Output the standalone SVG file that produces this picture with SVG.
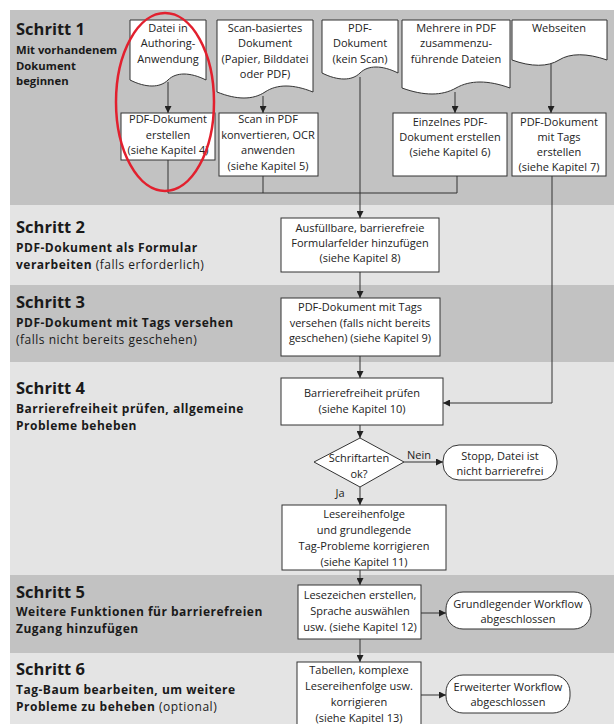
<svg xmlns="http://www.w3.org/2000/svg" width="614" height="724" viewBox="0 0 614 724">
<defs>
<marker id="ah" viewBox="0 0 8 8" refX="8" refY="4" markerWidth="7" markerHeight="7" markerUnits="userSpaceOnUse" orient="auto">
<path d="M0,0 L8,4 L0,8 z" fill="#222"/>
</marker>
<style>
.band-d{fill:#c2c2c2}
.band-l{fill:#e4e4e4}
.box{fill:#fff;stroke:#333;stroke-width:1}
.t{font-family:"Open Sans","Noto Sans",sans-serif;font-size:11px;fill:#222;text-anchor:middle}
.h{font-family:"Open Sans","Noto Sans",sans-serif;font-size:16.5px;font-weight:bold;fill:#1a1a1a}
.s{font-family:"Open Sans","Noto Sans",sans-serif;font-size:12px;letter-spacing:0.5px;fill:#1a1a1a}
.s1{font-family:"Open Sans","Noto Sans",sans-serif;font-size:11.3px;fill:#1a1a1a}
.b{font-weight:bold}
.c{fill:none;stroke:#333;stroke-width:1}
.ca{fill:none;stroke:#333;stroke-width:1;marker-end:url(#ah)}
</style>
</defs>
<rect x="0" y="0" width="614" height="724" fill="#fff"/>
<g id="bands">
<rect class="band-d" x="10" y="10" width="604" height="195"/>
<rect class="band-l" x="10" y="205" width="604" height="80"/>
<rect class="band-d" x="10" y="285" width="604" height="77"/>
<rect class="band-l" x="10" y="362" width="604" height="213"/>
<rect class="band-d" x="10" y="575" width="604" height="78"/>
<rect class="band-l" x="10" y="653" width="604" height="71"/>
</g>
<g id="labels">
<text class="h" x="16" y="35">Schritt 1</text>
<text class="s1 b" x="16" y="54">Mit vorhandenem</text>
<text class="s1 b" x="16" y="69.5">Dokument</text>
<text class="s1 b" x="16" y="85">beginnen</text>
<text class="h" x="16" y="233">Schritt 2</text>
<text class="s b" x="16" y="252">PDF-Dokument als Formular</text>
<text class="s" x="16" y="268.5"><tspan class="b">verarbeiten</tspan> (falls erforderlich)</text>
<text class="h" x="16" y="308">Schritt 3</text>
<text class="s b" x="16" y="327">PDF-Dokument mit Tags versehen</text>
<text class="s" x="16" y="343.5">(falls nicht bereits geschehen)</text>
<text class="h" x="16" y="394">Schritt 4</text>
<text class="s b" x="16" y="413">Barrierefreiheit prüfen, allgemeine</text>
<text class="s b" x="16" y="429.5">Probleme beheben</text>
<text class="h" x="16" y="598">Schritt 5</text>
<text class="s b" x="16" y="616">Weitere Funktionen für barrierefreien</text>
<text class="s b" x="16" y="632.5">Zugang hinzufügen</text>
<text class="h" x="16" y="675">Schritt 6</text>
<text class="s b" x="16" y="694">Tag-Baum bearbeiten, um weitere</text>
<text class="s" x="16" y="710.5"><tspan class="b">Probleme zu beheben</tspan> (optional)</text>
</g>
<g id="connectors">
<path class="ca" d="M168,82 V113"/>
<path class="ca" d="M263,96 V113"/>
<path class="ca" d="M455,92 V113"/>
<path class="ca" d="M551,64 V113"/>
<path class="c" d="M168,160 V193 H457 V176"/>
<path class="c" d="M263,176 V193"/>
<path class="ca" d="M360,77 V218"/>
<path class="ca" d="M552,176 V403 H443"/>
<path class="ca" d="M360,272 V298"/>
<path class="ca" d="M360,356 V378"/>
<path class="ca" d="M360,425 V438"/>
<path class="ca" d="M404,462 H443"/>
<path class="ca" d="M360,487 V505"/>
<path class="ca" d="M360,570 V585"/>
<path class="ca" d="M421,613 H446"/>
<path class="ca" d="M360,639 V662"/>
<path class="ca" d="M421,695 H446"/>
<text class="t" x="419" y="459">Nein</text>
<text class="t" x="340" y="497">Ja</text>
</g>
<g id="doc1">
<path class="box" d="M130,20 H206 V80 C190,72 176,72 168,80 C160,88 146,88 130,80 Z"/>
<text class="t" x="168" y="32">Datei in</text>
<text class="t" x="168" y="47">Authoring-</text>
<text class="t" x="168" y="63">Anwendung</text>
</g>
<g id="doc2">
<path class="box" d="M217,20 H313 V92 C293,84 277,84 265,92 C253,100 237,100 217,92 Z"/>
<text class="t" x="265" y="32">Scan-basiertes</text>
<text class="t" x="265" y="47">Dokument</text>
<text class="t" x="265" y="63">(Papier, Bilddatei</text>
<text class="t" x="265" y="78">oder PDF)</text>
</g>
<g id="doc3">
<path class="box" d="M322,20 H398 V73 C382,65 368,65 360,73 C352,81 338,81 322,73 Z"/>
<text class="t" x="360" y="32">PDF-</text>
<text class="t" x="360" y="47">Dokument</text>
<text class="t" x="360" y="63">(kein Scan)</text>
</g>
<g id="doc4">
<path class="box" d="M402,20 H510 V88 C488,80 470,80 456,88 C442,96 424,96 402,88 Z"/>
<text class="t" x="456" y="32">Mehrere in PDF</text>
<text class="t" x="456" y="47">zusammenzu-</text>
<text class="t" x="456" y="63">führende Dateien</text>
</g>
<g id="doc5">
<path class="box" d="M512,20 H607 V60 C587,53 570,53 559,60 C548,67 531,67 512,60 Z"/>
<text class="t" x="559" y="32">Webseiten</text>
</g>
<g id="boxA">
<rect class="box" x="121" y="113" width="94" height="47"/>
<text class="t" x="168" y="123">PDF-Dokument</text>
<text class="t" x="168" y="139">erstellen</text>
<text class="t" x="168" y="154">(siehe Kapitel 4)</text>
</g>
<g id="boxB">
<rect class="box" x="219" y="113" width="99" height="63"/>
<text class="t" x="268" y="123">Scan in PDF</text>
<text class="t" x="268" y="139">konvertieren, OCR</text>
<text class="t" x="268" y="154">anwenden</text>
<text class="t" x="268" y="170">(siehe Kapitel 5)</text>
</g>
<g id="boxC">
<rect class="box" x="393" y="113" width="114" height="63"/>
<text class="t" x="450" y="126">Einzelnes PDF-</text>
<text class="t" x="450" y="141">Dokument erstellen</text>
<text class="t" x="450" y="156">(siehe Kapitel 6)</text>
</g>
<g id="boxD">
<rect class="box" x="512" y="113" width="94" height="63"/>
<text class="t" x="559" y="126">PDF-Dokument</text>
<text class="t" x="559" y="141">mit Tags</text>
<text class="t" x="559" y="156">erstellen</text>
<text class="t" x="559" y="171">(siehe Kapitel 7)</text>
</g>
<g id="step2">
<rect class="box" x="281" y="218" width="158" height="54"/>
<text class="t" x="360" y="232">Ausfüllbare, barrierefreie</text>
<text class="t" x="360" y="247">Formularfelder hinzufügen</text>
<text class="t" x="360" y="262">(siehe Kapitel 8)</text>
</g>
<g id="step3">
<rect class="box" x="281" y="298" width="159" height="58"/>
<text class="t" x="360" y="311">PDF-Dokument mit Tags</text>
<text class="t" x="360" y="327">versehen (falls nicht bereits</text>
<text class="t" x="360" y="342">geschehen) (siehe Kapitel 9)</text>
</g>
<g id="step4">
<rect class="box" x="281" y="378" width="162" height="47"/>
<text class="t" x="362" y="397">Barrierefreiheit prüfen</text>
<text class="t" x="362" y="413">(siehe Kapitel 10)</text>
</g>
<g id="decision">
<path class="box" d="M360,438 L404,462 L360,487 L314,462 Z"/>
<text class="t" x="359" y="462">Schriftarten</text>
<text class="t" x="359" y="478">ok?</text>
</g>
<g id="stop">
<rect class="box" x="443" y="445" width="114" height="35" rx="16"/>
<text class="t" x="500" y="460">Stopp, Datei ist</text>
<text class="t" x="500" y="475">nicht barrierefrei</text>
</g>
<g id="step4b">
<rect class="box" x="282" y="505" width="164" height="65"/>
<text class="t" x="364" y="518">Lesereihenfolge</text>
<text class="t" x="364" y="533.5">und grundlegende</text>
<text class="t" x="364" y="550">Tag-Probleme korrigieren</text>
<text class="t" x="364" y="566">(siehe Kapitel 11)</text>
</g>
<g id="step5">
<rect class="box" x="298" y="585" width="123" height="54"/>
<text class="t" x="360" y="599">Lesezeichen erstellen,</text>
<text class="t" x="360" y="615">Sprache auswählen</text>
<text class="t" x="360" y="631">usw. (siehe Kapitel 12)</text>
</g>
<g id="end1">
<rect class="box" x="446" y="592" width="145" height="37" rx="17"/>
<text class="t" x="518" y="608">Grundlegender Workflow</text>
<text class="t" x="518" y="623">abgeschlossen</text>
</g>
<g id="step6">
<rect class="box" x="297" y="662" width="124" height="66"/>
<text class="t" x="359" y="674">Tabellen, komplexe</text>
<text class="t" x="359" y="690">Lesereihenfolge usw.</text>
<text class="t" x="359" y="706">korrigieren</text>
<text class="t" x="359" y="722">(siehe Kapitel 13)</text>
</g>
<g id="end2">
<rect class="box" x="446" y="675" width="124" height="38" rx="17"/>
<text class="t" x="508" y="691">Erweiterter Workflow</text>
<text class="t" x="508" y="706">abgeschlossen</text>
</g>
<ellipse id="highlight" cx="165" cy="102" rx="49" ry="89" fill="none" stroke="#e2202e" stroke-width="2.5"/>
</svg>
